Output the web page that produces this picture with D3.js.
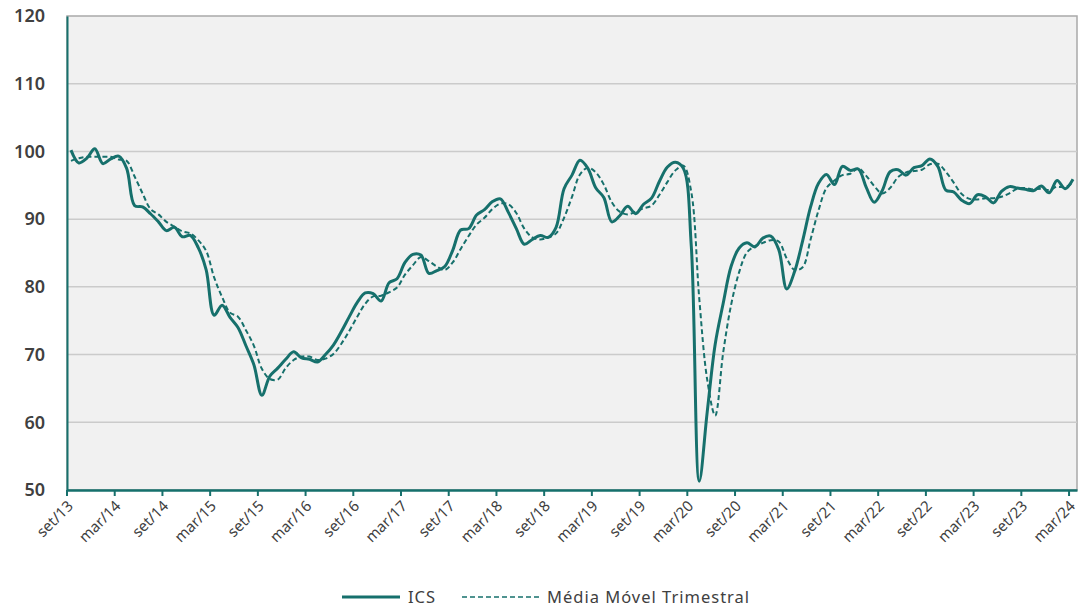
<!DOCTYPE html>
<html>
<head>
<meta charset="utf-8">
<script src="https://cdn.jsdelivr.net/npm/d3@7"></script>
<style>
  body { margin: 0; background: #fff; }
  svg text { font-family: "Noto Sans", "Open Sans", sans-serif; fill: #404040; }
</style>
</head>
<body>
<script>
var monthNames = ['jan', 'fev', 'mar', 'abr', 'mai', 'jun', 'jul', 'ago', 'set', 'out', 'nov', 'dez'];

// set/13 .. mar/24, one category per month
var months = d3.range(127).map(function(i) {
  var m = (8 + i) % 12, y = 13 + Math.floor((8 + i) / 12);
  return monthNames[m] + '/' + y;
});

var tickLabels = ['set/13', 'mar/14', 'set/14', 'mar/15', 'set/15', 'mar/16', 'set/16', 'mar/17',
  'set/17', 'mar/18', 'set/18', 'mar/19', 'set/19', 'mar/20', 'set/20', 'mar/21', 'set/21',
  'mar/22', 'set/22', 'mar/23', 'set/23', 'mar/24'];

var yTicks = [50, 60, 70, 80, 90, 100, 110, 120];

var ics = [
  100.2, 98.3, 99.0, 100.4, 98.2, 98.9, 99.3, 97.5, 92.0, 91.8, 90.8, 89.6,
  88.3, 88.8, 87.4, 87.6, 85.8, 82.5, 75.8, 77.3, 75.5, 74.0, 71.3, 68.5,
  64.0, 66.8, 68.0, 69.3, 70.4, 69.5, 69.3, 68.9, 70.0, 71.4, 73.4, 75.6,
  77.7, 79.1, 79.0, 77.9, 80.6, 81.2, 83.6, 84.8, 84.7, 82.0, 82.4, 83.0,
  85.4, 88.4, 88.6, 90.6, 91.4, 92.6, 93.0, 91.0, 88.6, 86.3, 87.0, 87.6,
  87.3, 88.8, 94.5, 96.5, 98.7, 97.5, 94.6, 93.2, 89.6, 90.5, 91.9, 90.8,
  92.2, 93.1, 95.6, 97.7, 98.4, 97.5, 86.0, 51.3, 61.5, 71.5, 77.5, 83.0,
  85.7, 86.5, 85.9, 87.2, 87.5, 85.5, 79.7, 82.3, 86.8, 91.8, 95.3, 96.6,
  95.1, 97.8, 97.2, 97.4, 94.7, 92.5, 94.2, 97.0, 97.3, 96.5, 97.6, 97.9,
  98.9, 97.8, 94.3, 94.0, 92.8, 92.3, 93.6, 93.3, 92.4, 94.1, 94.8, 94.6,
  94.4, 94.2, 94.9, 93.9, 95.7, 94.5, 95.9
];

var mediaMovel = [
  98.6, 99.0, 99.2, 99.2, 99.2, 99.2, 98.8, 98.6, 96.3, 93.8, 91.5, 90.7,
  89.6, 88.9, 88.2, 87.9, 86.9, 85.3, 81.4, 78.5, 76.2, 75.6, 73.6, 71.3,
  67.9, 66.4, 66.3, 68.0, 69.2, 69.7, 69.7, 69.2, 69.4, 70.1, 71.6, 73.5,
  75.6, 77.5, 78.6, 78.7, 79.2, 79.9, 81.8, 83.2, 84.4, 83.8, 83.0, 82.5,
  83.6, 85.6, 87.5, 89.2, 90.2, 91.5, 92.3, 92.2, 90.9, 88.6, 87.3, 87.0,
  87.3, 87.9, 90.2, 93.3, 96.6, 97.6, 96.9, 95.1, 92.5, 91.1, 90.7, 91.1,
  91.6, 92.0, 93.6, 95.5, 97.2, 97.9, 94.0, 78.3, 66.3, 61.0, 70.2, 77.3,
  82.1, 85.1, 86.0, 86.5, 86.9, 86.7, 84.2, 82.5, 82.9, 87.0, 91.3, 94.6,
  95.7, 96.5, 96.7, 97.5, 96.4, 94.9, 93.8, 94.6, 96.2, 96.9, 97.1, 97.3,
  98.1, 98.2, 97.0, 95.4, 93.7, 93.0, 92.9, 93.1, 93.1, 93.3, 93.8, 94.5,
  94.6, 94.4, 94.5, 94.3, 94.8, 94.7, 95.4
];

var width = 1078,
  height = 607,
  margin = { top: 16, right: 1, bottom: 117, left: 67 },
  teal = '#16706c';

var svg = d3.select('body').append('svg')
  .attr('width', width)
  .attr('height', height);

var x = d3.scaleBand().domain(months).range([margin.left, width - margin.right]);
var y = d3.scaleLinear().domain([50, 120]).range([height - margin.bottom, margin.top]);
var bw = x.bandwidth();
var cx = function(m) { return x(m) + bw / 2; };

// plot area
svg.append('rect')
  .attr('x', margin.left)
  .attr('y', margin.top)
  .attr('width', width - margin.right - margin.left)
  .attr('height', y(50) - margin.top)
  .style('fill', '#f1f1f1')
  .style('stroke', '#a9a9a9')
  .style('stroke-width', 1.5);

// gridlines
svg.append('g')
  .selectAll('line')
  .data(yTicks.slice(1, -1))
  .enter()
  .append('line')
  .attr('x1', margin.left)
  .attr('x2', width - margin.right)
  .attr('y1', function(d) { return y(d); })
  .attr('y2', function(d) { return y(d); })
  .style('stroke', '#cbcbcb')
  .style('stroke-width', 1.5);

// y axis
var yAxis = svg.append('g')
  .attr('transform', 'translate(' + margin.left + ',0)')
  .call(d3.axisLeft(y).tickValues(yTicks).tickSize(0).tickPadding(22));
yAxis.select('.domain').style('stroke', teal).style('stroke-width', 2);
yAxis.selectAll('text')
  .style('font-size', '18px')
  .style('font-weight', '600')
  .style('fill', '#404040');

// x axis, ticks on the category boundaries
var xAxis = svg.append('g')
  .attr('transform', 'translate(0,' + y(50) + ')')
  .call(d3.axisBottom(x).tickValues(tickLabels).tickSize(6).tickSizeOuter(0));
xAxis.select('.domain').style('stroke', teal).style('stroke-width', 2.5);
xAxis.selectAll('.tick line')
  .attr('x1', -bw / 2)
  .attr('x2', -bw / 2)
  .style('stroke', teal)
  .style('stroke-width', 2);
xAxis.selectAll('.tick text')
  .attr('text-anchor', 'end')
  .attr('dy', null)
  .attr('y', 0)
  .attr('transform', 'translate(3,17) rotate(-45)')
  .style('font-size', '15px')
  .style('fill', '#404040');

var lineIcs = d3.line()
  .x(function(d, i) { return cx(months[i]); })
  .y(function(d) { return y(d); })
  .curve(d3.curveCatmullRom.alpha(0.5));

svg.append('path')
  .attr('d', lineIcs(mediaMovel))
  .style('fill', 'none')
  .style('stroke', teal)
  .style('stroke-width', 2)
  .style('stroke-dasharray', '5,3');

svg.append('path')
  .attr('d', lineIcs(ics))
  .style('fill', 'none')
  .style('stroke', teal)
  .style('stroke-width', 3)
  .style('stroke-linejoin', 'round');

// legend
var legend = svg.append('g').attr('class', 'legend');

legend.append('line')
  .attr('x1', 342).attr('x2', 400)
  .attr('y1', 597).attr('y2', 597)
  .style('stroke', teal)
  .style('stroke-width', 3);

legend.append('text')
  .attr('x', 408)
  .attr('y', 597)
  .attr('dy', '0.35em')
  .style('font-size', '16.5px')
  .style('letter-spacing', '1px')
  .text('ICS');

legend.append('line')
  .attr('x1', 462).attr('x2', 540)
  .attr('y1', 597).attr('y2', 597)
  .style('stroke', teal)
  .style('stroke-width', 1.5)
  .style('stroke-dasharray', '5,3');

legend.append('text')
  .attr('x', 547)
  .attr('y', 597)
  .attr('dy', '0.35em')
  .style('font-size', '16.5px')
  .style('letter-spacing', '1px')
  .text('Média Móvel Trimestral');
</script>
</body>
</html>
